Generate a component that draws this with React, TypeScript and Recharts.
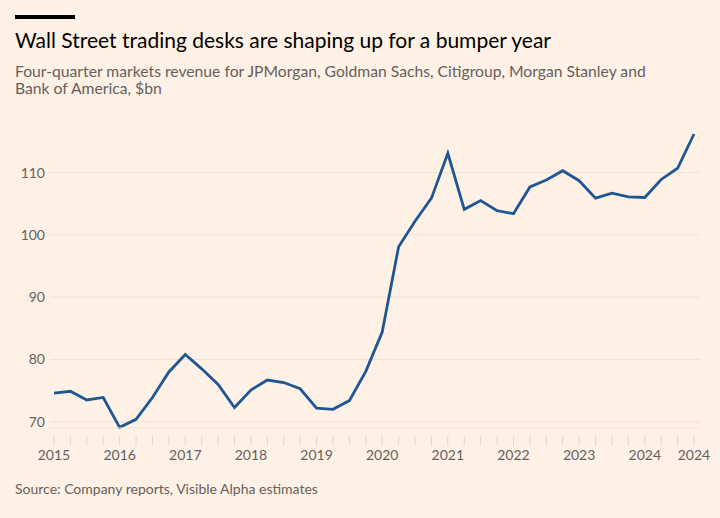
import React from "react";
import { LineChart, Line, XAxis, YAxis, CartesianGrid } from "recharts";

const quarters: string[] = [
  "2015 Q1", "2015 Q2", "2015 Q3", "2015 Q4",
  "2016 Q1", "2016 Q2", "2016 Q3", "2016 Q4",
  "2017 Q1", "2017 Q2", "2017 Q3", "2017 Q4",
  "2018 Q1", "2018 Q2", "2018 Q3", "2018 Q4",
  "2019 Q1", "2019 Q2", "2019 Q3", "2019 Q4",
  "2020 Q1", "2020 Q2", "2020 Q3", "2020 Q4",
  "2021 Q1", "2021 Q2", "2021 Q3", "2021 Q4",
  "2022 Q1", "2022 Q2", "2022 Q3", "2022 Q4",
  "2023 Q1", "2023 Q2", "2023 Q3", "2023 Q4",
  "2024 Q1", "2024 Q2", "2024 Q3", "2024 Q4",
];

const revenue: number[] = [
  74.6, 74.9, 73.5, 73.9,
  69.1, 70.4, 73.9, 78.0,
  80.8, 78.5, 76.0, 72.3,
  75.1, 76.7, 76.3, 75.3,
  72.2, 72.0, 73.4, 78.1,
  84.4, 98.1, 102.2, 105.9,
  113.1, 104.1, 105.5, 103.9,
  103.4, 107.7, 108.8, 110.3,
  108.7, 105.9, 106.7, 106.1,
  106.0, 108.9, 110.7, 116.2,
];

const yTicks: number[] = [70, 80, 90, 100, 110];

const data = quarters.map((q, i) => ({ quarter: q, value: revenue[i] }));

const FONT = "Lato, 'Open Sans', sans-serif";
const BG = "#fff1e5";
const GREY = "#66605c";

const XTick = (props: any) => {
  const { x, y, payload, index } = props;
  const q: string = payload.value;
  const isLast = index === quarters.length - 1;
  const label = q.endsWith("Q1") || isLast ? q.slice(0, 4) : "";
  return (
    <g>
      <line x1={x} y1={y} x2={x} y2={y + 10} stroke="#e3d7cc" strokeWidth={1} />
      {label && (
        <text x={x} y={y + 19} dy="0.35em" textAnchor="middle" fill={GREY} fontSize={14} fontFamily={FONT}>
          {label}
        </text>
      )}
    </g>
  );
};

export default function App() {
  return (
    <div
      style={{
        position: "absolute",
        left: 0,
        top: 0,
        width: 720,
        height: 518,
        background: BG,
        overflow: "hidden",
        fontFamily: FONT,
      }}
    >
      <div style={{ position: "absolute", left: 15, top: 15, width: 60, height: 4, background: "#000" }} />
      <div
        style={{
          position: "absolute",
          left: 15,
          top: 29,
          fontSize: 21,
          lineHeight: "21px",
          color: "#000",
          whiteSpace: "nowrap",
        }}
      >
        Wall Street trading desks are shaping up for a bumper year
      </div>
      <div
        style={{
          position: "absolute",
          left: 15,
          top: 63,
          fontSize: 15.7,
          lineHeight: "17px",
          color: GREY,
          width: 700,
        }}
      >
        Four-quarter markets revenue for JPMorgan, Goldman Sachs, Citigroup, Morgan Stanley and
        <br />
        Bank of America, $bn
      </div>
      <div style={{ position: "absolute", left: 0, top: 0 }}>
        <LineChart
          width={720}
          height={470}
          data={data}
          margin={{ top: 129, right: 20, bottom: 0, left: 0 }}
        >
          <CartesianGrid vertical={false} stroke="#efe2d6" strokeWidth={1} horizontalValues={yTicks} />
          <XAxis
            dataKey="quarter"
            interval={0}
            height={42}
            padding={{ left: 4, right: 6 }}
            tickLine={false}
            axisLine={{ stroke: "#f1e5da" }}
            tick={<XTick />}
          />
          <YAxis
            domain={[69, 117]}
            ticks={yTicks}
            width={50}
            axisLine={false}
            tickLine={false}
            tickSize={0}
            tickMargin={5}
            tick={{ fill: GREY, fontSize: 14, fontFamily: FONT }}
          />
          <Line
            type="linear"
            dataKey="value"
            stroke="#1f5794"
            strokeWidth={2.8}
            dot={false}
            isAnimationActive={false}
            strokeLinejoin="miter"
          />
        </LineChart>
      </div>
      <div
        style={{
          position: "absolute",
          left: 15,
          top: 481,
          fontSize: 14,
          lineHeight: "16px",
          color: GREY,
          whiteSpace: "nowrap",
        }}
      >
        Source: Company reports, Visible Alpha estimates
      </div>
    </div>
  );
}
